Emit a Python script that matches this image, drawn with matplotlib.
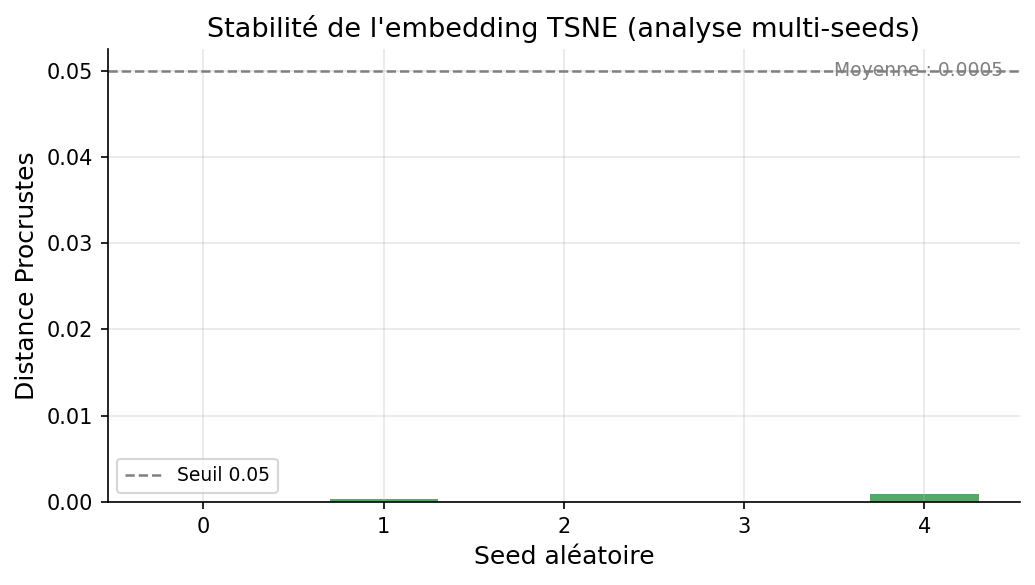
import numpy as np
import matplotlib
matplotlib.use('Agg')
import matplotlib.pyplot as plt

# Procrustes distance per random seed
seeds = [0, 1, 2, 3, 4]
distances = [0.0, 0.0003, 0.0, 0.0, 0.0009]
threshold = 0.05
mean_label = 'Moyenne : 0.0005'

fig, ax = plt.subplots(figsize=(6.9, 3.9), dpi=150)
ax.bar(seeds, distances, width=0.6, color='#55a868')
ax.axhline(threshold, color='gray', linestyle='--', linewidth=1.2, label='Seuil 0.05')
ax.text(0.981, threshold, mean_label, transform=ax.get_yaxis_transform(),
        ha='right', va='center', color='gray', fontsize=9)

ax.set_title("Stabilité de l'embedding TSNE (analyse multi-seeds)", fontsize=13)
ax.set_xlabel('Seed aléatoire', fontsize=12)
ax.set_ylabel('Distance Procrustes', fontsize=12)
ax.set_xticks(seeds)
ax.tick_params(labelsize=10)
ax.grid(alpha=0.3)
ax.spines['top'].set_visible(False)
ax.spines['right'].set_visible(False)
ax.legend(loc='lower left', fontsize=9)

fig.subplots_adjust(left=0.1043, right=0.9855, top=0.9162, bottom=0.1419)
plt.savefig('out.png')
